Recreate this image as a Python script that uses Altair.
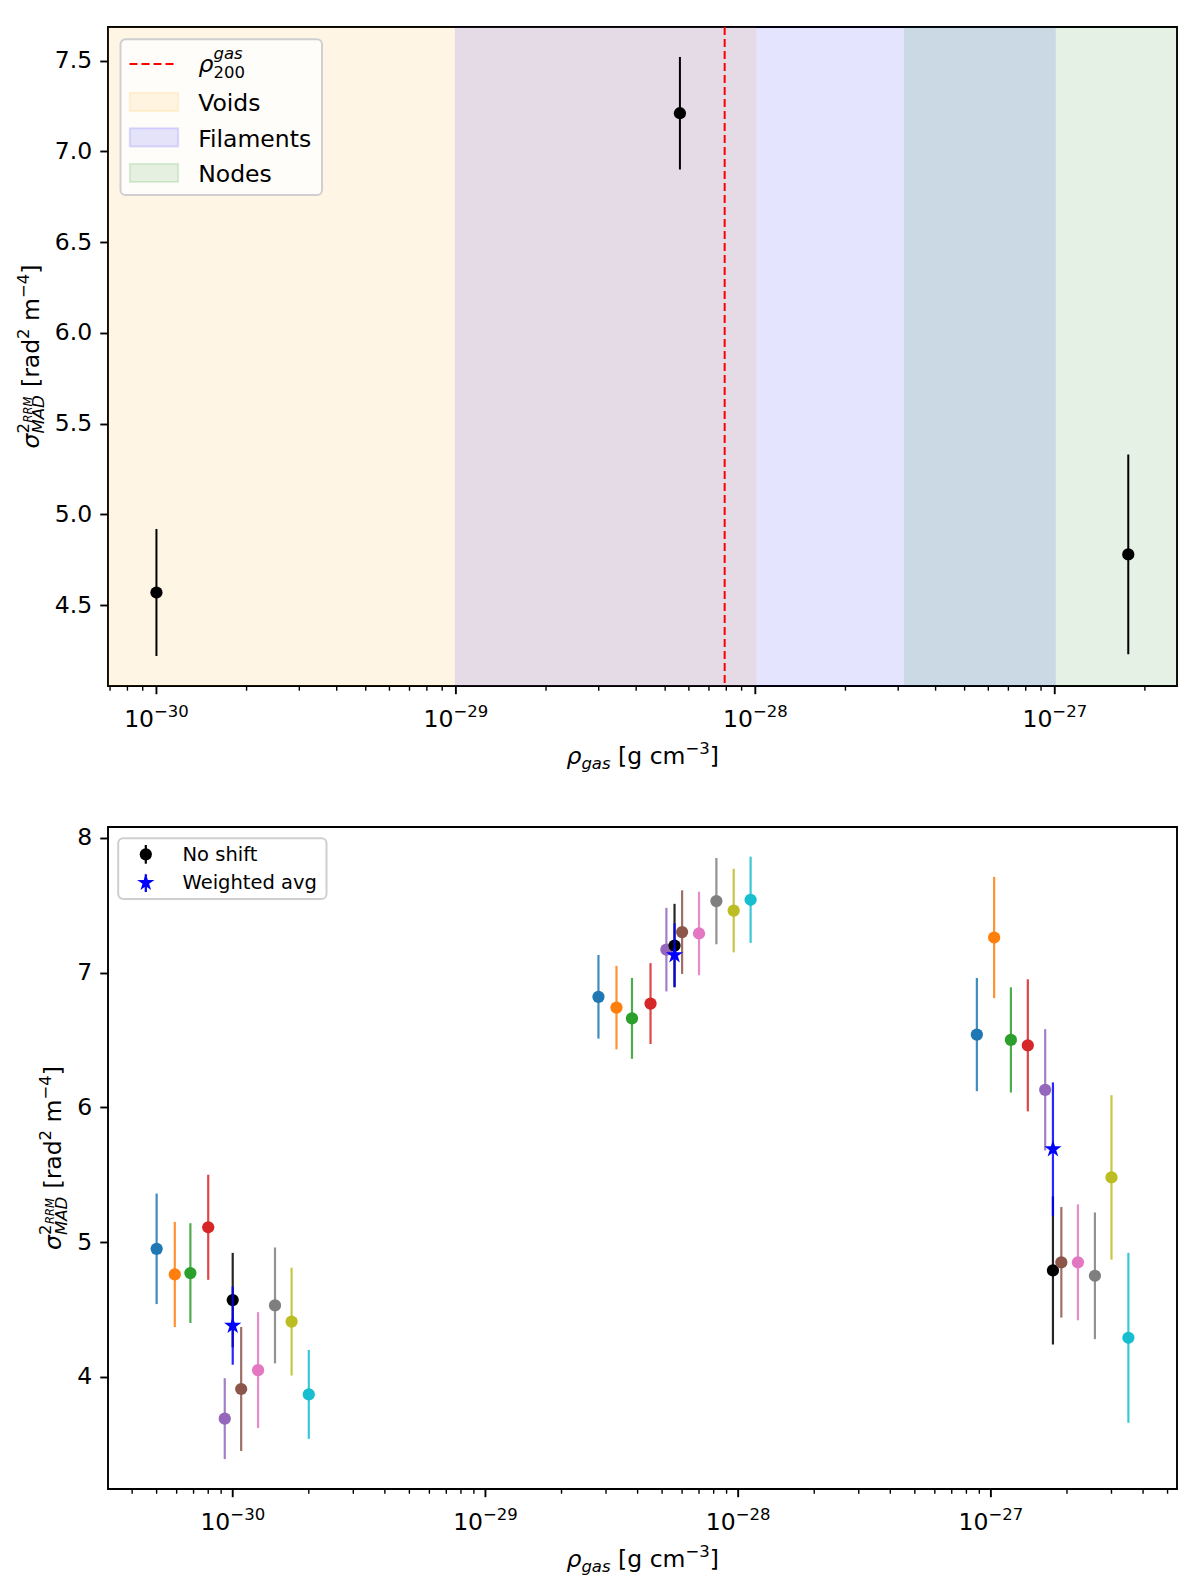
import altair as alt
import pandas as pd

FONT = "DejaVu Sans"

# ---------------- values ----------------
# upper panel: un-shifted measurement per environment
env_rho = [1.0e-30, 5.6e-29, 1.76e-27]
env_sigma = [4.57, 7.21, 4.78]
env_err = [0.35, 0.31, 0.55]
rho200_gas = [7.9e-29]

# environment density ranges (shaded spans)
band_names = ["Voids", "Filaments", "Nodes"]
band_lo = [1.0e-31, 1.0e-29, 3.16e-28]
band_hi = [1.0e-28, 1.0e-27, 1.0e-26]
band_colors = ["orange", "blue", "green"]

# lower panel: ten shifted density estimates per environment (tab10 order)
shift_colors = ["#1f77b4", "#ff7f0e", "#2ca02c", "#d62728", "#9467bd",
                "#8c564b", "#e377c2", "#7f7f7f", "#bcbd22", "#17becf"]

voids_rho = [5.0e-31, 5.9e-31, 6.8e-31, 8.0e-31, 9.3e-31, 1.08e-30, 1.26e-30, 1.47e-30, 1.71e-30, 2.0e-30]
voids_sig = [4.95, 4.76, 4.77, 5.11, 3.69, 3.91, 4.05, 4.53, 4.41, 3.87]
voids_err = [0.41, 0.39, 0.37, 0.39, 0.30, 0.46, 0.43, 0.43, 0.40, 0.33]

fil_rho = [2.8e-29, 3.3e-29, 3.8e-29, 4.5e-29, 5.2e-29, 6.0e-29, 7.0e-29, 8.2e-29, 9.6e-29, 1.12e-28]
fil_sig = [6.82, 6.74, 6.66, 6.77, 7.17, 7.30, 7.29, 7.53, 7.46, 7.54]
fil_err = [0.31, 0.31, 0.30, 0.30, 0.31, 0.31, 0.31, 0.32, 0.31, 0.32]

node_rho = [8.8e-28, 1.03e-27, 1.20e-27, 1.40e-27, 1.64e-27, 1.90e-27, 2.21e-27, 2.58e-27, 3.0e-27, 3.5e-27]
node_sig = [6.54, 7.26, 6.50, 6.46, 6.13, 4.85, 4.85, 4.75, 5.48, 4.29]
node_err = [0.42, 0.45, 0.39, 0.49, 0.45, 0.41, 0.43, 0.47, 0.61, 0.63]

noshift_rho = [1.0e-30, 5.6e-29, 1.76e-27]
noshift_sig = [4.57, 7.20, 4.79]
noshift_err = [0.35, 0.31, 0.55]

wavg_rho = [1.0e-30, 5.6e-29, 1.76e-27]
wavg_sig = [4.38, 7.13, 5.69]
wavg_err = [0.29, 0.235, 0.495]

# axis tick labels
major_ticks = [1e-30, 1e-29, 1e-28, 1e-27]
major_exp = ["\u221230", "\u221229", "\u221228", "\u221227"]
top_yticks = [4.5, 5.0, 5.5, 6.0, 6.5, 7.0, 7.5]
bot_yticks = [4, 5, 6, 7, 8]

# ---------------- layout ----------------
W = 1069
H_TOP, H_BOT = 659, 662
top_x = alt.Scale(type="log", domain=[6.89e-31, 2.56e-27], nice=False)
bot_x = alt.Scale(type="log", domain=[3.21e-31, 5.45e-27], nice=False)
top_y = alt.Scale(domain=[4.055, 7.685], nice=False, zero=False)
bot_y = alt.Scale(domain=[3.168, 8.080], nice=False, zero=False)

DOT = 150
STAR_SIZE = 330
STAR = ("M0,-1 L0.2245,-0.309 L0.951,-0.309 L0.3633,0.118 L0.588,0.809 L0,0.382 "
        "L-0.588,0.809 L-0.3633,0.118 L-0.951,-0.309 L-0.2245,-0.309 Z")


def txt(s, x, y, size=23.5, italic=False, align="left", angle=0, color="black"):
    return alt.Chart(pd.DataFrame({"t": [s]})).mark_text(
        text=s, font=FONT, fontSize=size, fontStyle="italic" if italic else "normal",
        align=align, baseline="alphabetic", angle=angle, color=color,
    ).encode(x=alt.value(x), y=alt.value(y))


def y_axis(values, fmt):
    return alt.Axis(values=values, format=fmt, title=None, grid=False, domain=False,
                    tickSize=8.2, tickWidth=1.9, tickColor="black",
                    labelFont=FONT, labelFontSize=23.5, labelColor="black", labelPadding=8.2)


def y_title(bx, y0):
    parts = [("\u03c3", 23.5, True, 0, 0), ("2", 16.5, False, 15, -10),
             ("RRM", 11.5, True, 26, -7), ("MAD", 16.5, True, 15, 5.5),
             ("[rad", 23.5, False, 61.5, 0), ("2", 16.5, False, 109.6, -10),
             ("m", 23.5, False, 127.6, 0), ("\u22124", 16.5, False, 150.5, -10),
             ("]", 23.5, False, 174.8, 0)]
    return [txt(s, bx + sh, y0 - a, size, it, angle=270) for s, size, it, a, sh in parts]


def x_title(cx, b):
    s = cx - 76
    return [txt("\u03c1", s, b, 23.5, True), txt("gas", s + 14.9, b + 5, 16.5, True),
            txt("[g cm", s + 51.6, b), txt("\u22123", s + 118.9, b - 10, 16.5),
            txt("]", s + 143.2, b)]


def x_ticks(scale, H, dmin, dmax):
    minor = [m * 10.0 ** e for e in range(-32, -25) for m in range(2, 10)
             if dmin <= m * 10.0 ** e <= dmax]
    maj = alt.Chart(pd.DataFrame({"v": major_ticks})).mark_rule(
        color="black", strokeWidth=1.9).encode(
        x=alt.X("v:Q", scale=scale, axis=None), y=alt.value(H), y2=alt.value(H + 8.2))
    mnr = alt.Chart(pd.DataFrame({"v": minor})).mark_rule(
        color="black", strokeWidth=1.4).encode(
        x=alt.X("v:Q", scale=scale, axis=None), y=alt.value(H), y2=alt.value(H + 4.7))
    lab = alt.Chart(pd.DataFrame({"v": major_ticks, "e": major_exp}))
    ten = lab.mark_text(text="10", font=FONT, fontSize=23.5, align="right",
                        baseline="alphabetic", dx=-2.4, color="black").encode(
        x=alt.X("v:Q", scale=scale, axis=None), y=alt.value(H + 41))
    ex = lab.mark_text(font=FONT, fontSize=16.5, align="left", baseline="alphabetic",
                       dx=-2.4, color="black").encode(
        x=alt.X("v:Q", scale=scale, axis=None), y=alt.value(H + 31), text="e:N")
    return [maj, mnr, ten, ex]


# ---------------- upper panel ----------------
bands = pd.DataFrame({"name": band_names, "lo": band_lo, "hi": band_hi, "col": band_colors})
band_layer = alt.Chart(bands).mark_rect(opacity=0.1, strokeWidth=2, clip=True).encode(
    x=alt.X("lo:Q", scale=top_x, axis=None), x2="hi:Q",
    y=alt.value(0), y2=alt.value(H_TOP),
    color=alt.Color("col:N", scale=None), stroke=alt.Stroke("col:N", scale=None))

rho_line = alt.Chart(pd.DataFrame({"v": rho200_gas})).mark_rule(
    color="red", strokeDash=[8, 4], strokeWidth=2).encode(
    x=alt.X("v:Q", scale=top_x, axis=None), y=alt.value(0), y2=alt.value(H_TOP))

env = pd.DataFrame({"rho": env_rho, "sig": env_sigma,
                    "lo": [s - e for s, e in zip(env_sigma, env_err)],
                    "hi": [s + e for s, e in zip(env_sigma, env_err)]})
ax_top = y_axis(top_yticks, ".1f")
env_err_layer = alt.Chart(env).mark_rule(color="black", strokeWidth=2).encode(
    x=alt.X("rho:Q", scale=top_x, axis=None),
    y=alt.Y("lo:Q", scale=top_y, axis=ax_top), y2="hi:Q")
env_pts = alt.Chart(env).mark_circle(color="black", size=DOT, opacity=1).encode(
    x=alt.X("rho:Q", scale=top_x, axis=None),
    y=alt.Y("sig:Q", scale=top_y, axis=ax_top))

anchor = alt.Chart(pd.DataFrame({"t": [0]})).mark_rect(opacity=0).encode(
    x=alt.value(-98.5), x2=alt.value(-97.5), y=alt.value(-18), y2=alt.value(-17))

top_legend = [
    alt.Chart(pd.DataFrame({"t": [0]})).mark_rect(
        fill="white", fillOpacity=0.8, stroke="#cfcfcf", strokeWidth=2, cornerRadius=5).encode(
        x=alt.value(12.5), x2=alt.value(214), y=alt.value(12.3), y2=alt.value(168)),
    alt.Chart(pd.DataFrame({"t": [0]})).mark_rule(
        color="red", strokeDash=[8, 4], strokeWidth=2).encode(
        x=alt.value(21.5), x2=alt.value(69.5), y=alt.value(37)),
    txt("\u03c1", 90.5, 45, 23.5, True),
    txt("gas", 105.5, 31.7, 16.5, True),
    txt("200", 105.5, 50.7, 16.5),
]
for name, col, y0 in zip(band_names, band_colors, [65.7, 101.3, 136.7]):
    top_legend.append(alt.Chart(pd.DataFrame({"t": [0]})).mark_rect(
        fill=col, fillOpacity=0.1, stroke=col, strokeOpacity=0.12, strokeWidth=2).encode(
        x=alt.value(21.8), x2=alt.value(70.2), y=alt.value(y0), y2=alt.value(y0 + 18.3)))
    top_legend.append(txt(name, 90.2, y0 + 18.3))

top = alt.layer(
    anchor, band_layer, rho_line, env_err_layer, env_pts,
    *x_ticks(top_x, H_TOP, 6.89e-31, 2.56e-27),
    *top_legend,
    *y_title(-69.5, H_TOP / 2 + 92),
    *x_title(W / 2, H_TOP + 78),
).properties(width=W, height=H_TOP)

# ---------------- lower panel ----------------
rows = []
for rho, sig, err in [(voids_rho, voids_sig, voids_err), (fil_rho, fil_sig, fil_err),
                      (node_rho, node_sig, node_err)]:
    for i in range(10):
        rows.append({"rho": rho[i], "sig": sig[i], "lo": sig[i] - err[i],
                     "hi": sig[i] + err[i], "col": shift_colors[i]})
for r, s, e in zip(noshift_rho, noshift_sig, noshift_err):
    rows.append({"rho": r, "sig": s, "lo": s - e, "hi": s + e, "col": "black"})
shifts = pd.DataFrame(rows).sort_values("rho", kind="stable").reset_index(drop=True)

wavg = pd.DataFrame({"rho": wavg_rho, "sig": wavg_sig,
                     "lo": [s - e for s, e in zip(wavg_sig, wavg_err)],
                     "hi": [s + e for s, e in zip(wavg_sig, wavg_err)]})

ax_bot = y_axis(bot_yticks, "d")
shift_err_layer = alt.Chart(shifts).mark_rule(strokeWidth=2.2, opacity=0.85).encode(
    x=alt.X("rho:Q", scale=bot_x, axis=None),
    y=alt.Y("lo:Q", scale=bot_y, axis=ax_bot), y2="hi:Q",
    color=alt.Color("col:N", scale=None))
shift_pts = alt.Chart(shifts).mark_circle(size=DOT, opacity=1).encode(
    x=alt.X("rho:Q", scale=bot_x, axis=None),
    y=alt.Y("sig:Q", scale=bot_y, axis=ax_bot),
    color=alt.Color("col:N", scale=None))
wavg_err_layer = alt.Chart(wavg).mark_rule(color="blue", strokeWidth=2.2, opacity=0.85).encode(
    x=alt.X("rho:Q", scale=bot_x, axis=None),
    y=alt.Y("lo:Q", scale=bot_y, axis=ax_bot), y2="hi:Q")
wavg_pts = alt.Chart(wavg).mark_point(shape=STAR, filled=True, color="blue", size=STAR_SIZE,
                                      opacity=1).encode(
    x=alt.X("rho:Q", scale=bot_x, axis=None),
    y=alt.Y("sig:Q", scale=bot_y, axis=ax_bot))

bot_legend = [
    alt.Chart(pd.DataFrame({"t": [0]})).mark_rect(
        fill="white", fillOpacity=0.8, stroke="#cfcfcf", strokeWidth=2, cornerRadius=5).encode(
        x=alt.value(10.2), x2=alt.value(218.5), y=alt.value(11.3), y2=alt.value(72)),
    alt.Chart(pd.DataFrame({"t": [0]})).mark_rule(color="black", strokeWidth=2.2).encode(
        x=alt.value(37.8), y=alt.value(18), y2=alt.value(36.7)),
    alt.Chart(pd.DataFrame({"t": [0]})).mark_circle(color="black", size=DOT, opacity=1).encode(
        x=alt.value(37.8), y=alt.value(27.3)),
    txt("No shift", 74.5, 34, 19.5),
    alt.Chart(pd.DataFrame({"t": [0]})).mark_rule(color="blue", strokeWidth=2.2).encode(
        x=alt.value(37.8), y=alt.value(47.3), y2=alt.value(65)),
    alt.Chart(pd.DataFrame({"t": [0]})).mark_point(
        shape=STAR, filled=True, color="blue", size=STAR_SIZE, opacity=1).encode(
        x=alt.value(37.8), y=alt.value(55.7)),
    txt("Weighted avg", 74.5, 62, 19.5),
]

bottom = alt.layer(
    shift_err_layer, shift_pts, wavg_err_layer, wavg_pts,
    *x_ticks(bot_x, H_BOT, 3.21e-31, 5.45e-27),
    *bot_legend,
    *y_title(-47, H_BOT / 2 + 92),
    *x_title(W / 2, H_BOT + 78),
).properties(width=W, height=H_BOT)

chart = alt.vconcat(top, bottom, spacing=141, bounds="flush").properties(
    padding=0, background="white"
).configure_view(stroke="black", strokeWidth=1.9)

chart.save("out.html", embed_options={"renderer": "svg", "actions": False})
